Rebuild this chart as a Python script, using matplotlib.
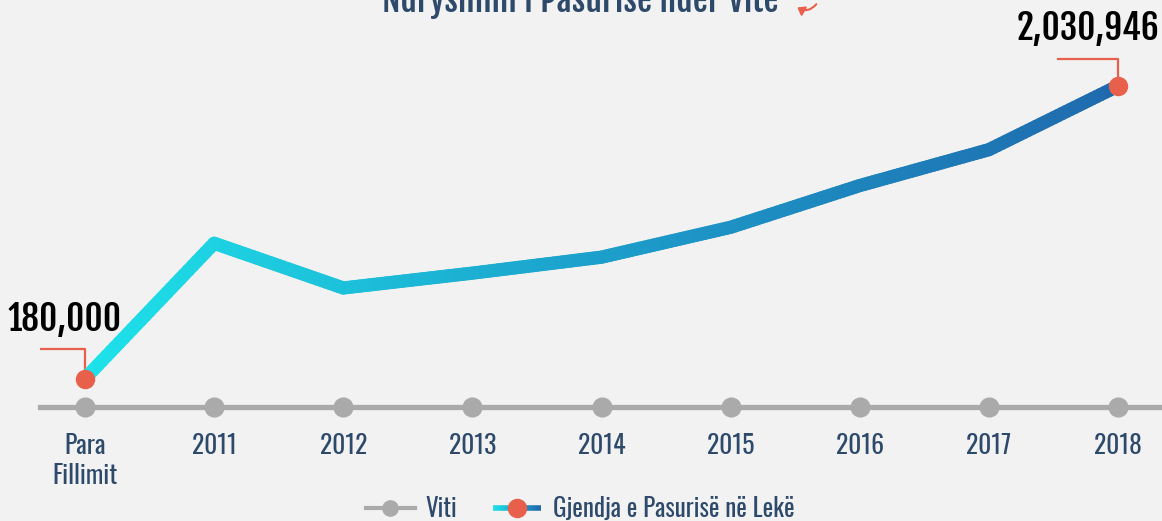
import matplotlib
matplotlib.use("Agg")
import matplotlib.pyplot as plt
import numpy as np
from matplotlib.collections import LineCollection
from matplotlib.lines import Line2D
from matplotlib.legend_handler import HandlerBase
from matplotlib.colors import LinearSegmentedColormap
from matplotlib.patches import FancyArrowPatch
from matplotlib import font_manager

categories = ["Para\nFillimit", "2011", "2012", "2013", "2014", "2015", "2016", "2017", "2018"]
wealth = [180000, 1036000, 753000, 847000, 948000, 1137000, 1401000, 1628000, 2030946]
years_series = [0, 0, 0, 0, 0, 0, 0, 0, 0]
title = "Ndryshimi i Pasurisë ndër Vite"
legend_labels = ["Viti", "Gjendja e Pasurisë në Lekë"]

fonts = font_manager.fontManager.ttflist
names = {f.name for f in fonts}
def pick(cands):
    return next((c for c in cands if c in names), "DejaVu Sans")
REG = pick(["Oswald", "Barlow Condensed", "Fjalla One"])
def wnum(w):
    if isinstance(w, int):
        return w
    return {"bold": 700, "normal": 400, "regular": 400, "semibold": 600}.get(str(w).lower(), 400)
if any(f.name == "Oswald" and wnum(f.weight) >= 600 for f in fonts):
    BOLD, BW = "Oswald", "bold"
elif "Fjalla One" in names:
    BOLD, BW = "Fjalla One", "normal"
else:
    BOLD, BW = pick(["Barlow Condensed"]), "bold"
plt.rcParams['font.family'] = [REG, 'DejaVu Sans']

BG = "#f2f2f2"
NAVY = "#2e4a6b"
GRAY = "#aaaaaa"
ORANGE = "#e8604c"
cmap = LinearSegmentedColormap.from_list("g", ["#1de3ea", "#1c9fcb", "#1f6aae"])

W, H = 1162, 521
fig = plt.figure(figsize=(W/100, H/100), dpi=100, facecolor=BG)
base_px = 407
ax = fig.add_axes([40/W, (H-base_px)/H, 1-40/W, base_px/H])
ax.set_facecolor(BG)
x = np.arange(len(categories))
spacing = 129.1
ax.set_xlim((40-85)/spacing, 8 + (1162-1118)/spacing)
k = wealth[-1]/(base_px-86)
ax.set_ylim(0, base_px*k)

for s in ["top", "left", "right"]:
    ax.spines[s].set_visible(False)
ax.spines["bottom"].set_color(GRAY)
ax.spines["bottom"].set_linewidth(3.8)
ax.set_yticks([])
ax.set_xticks(x)
ax.set_xticklabels(categories, color=NAVY, fontsize=18.5, linespacing=1.15)
ax.tick_params(axis="x", length=0, pad=19)

# Viti markers
ax.plot(x, years_series, "o", color=GRAY, ms=13.5, clip_on=False, zorder=3)

# gradient line
xs = np.asarray(x, float)
ys = np.asarray(wealth, float)
segs, cols = [], []
n = 30
for i in range(len(xs)-1):
    t = np.linspace(0, 1, n+1)
    px = xs[i] + (xs[i+1]-xs[i])*t
    py = ys[i] + (ys[i+1]-ys[i])*t
    for j in range(n):
        segs.append([(px[j], py[j]), (px[j+1], py[j+1])])
        cols.append(cmap(((px[j]+px[j+1])/2)/xs[-1]))
lc = LineCollection(segs, colors=cols, linewidths=9.5, capstyle="round", joinstyle="round", zorder=4)
ax.add_collection(lc)

# end markers
ax.plot([xs[0], xs[-1]], [ys[0], ys[-1]], "o", color=ORANGE, ms=13, zorder=5, clip_on=False)

# leader lines and labels
def leader(xi, yi, up_px, left_px, label, tx, ty):
    y_top = yi + up_px*k
    x_left = xi - left_px/spacing
    ax.plot([xi, xi, x_left], [yi, y_top, y_top], color=ORANGE, lw=1.6, zorder=2, solid_capstyle="butt")
    ax.annotate(label, (xi, yi), xytext=(tx, ty), textcoords="offset pixels",
                ha="center", va="center", fontsize=25.5, family=[BOLD, "DejaVu Sans"],
                fontweight=BW, color="black")

leader(xs[0], ys[0], 30, 63, f"{wealth[0]:,}", -20, 59)
leader(xs[-1], ys[-1], 27, 61, f"{wealth[-1]:,}", -30, 57)

# title (cut at top)
fig.text(580/W, 1-12/H, title, ha="center", va="baseline", fontsize=24.5,
         family=[BOLD, "DejaVu Sans"], fontweight=BW, color=NAVY)
fig.patches.append(FancyArrowPatch((818/W, 1-2/H), (795/W, 1-6/H),
    transform=fig.transFigure, connectionstyle="arc3,rad=-0.5",
    arrowstyle="-|>,head_length=4,head_width=3", color=ORANGE, lw=1.5))

class GradHandler(HandlerBase):
    def create_artists(self, legend, orig_handle, xd, yd, width, height, fontsize, trans):
        t = np.linspace(0, 1, 21)
        px = -xd + width*t
        py = np.full_like(px, -yd + height/2)
        segs = [[(px[j], py[j]), (px[j+1], py[j+1])] for j in range(20)]
        cols = [cmap((j+0.5)/20) for j in range(20)]
        c = LineCollection(segs, colors=cols, linewidths=4, transform=trans)
        m = Line2D([-xd + width/2], [-yd + height/2], marker="o", ms=13, color=ORANGE,
                   transform=trans)
        return [c, m]

h1 = Line2D([], [], color=GRAY, lw=3, marker="o", ms=11)
h2 = Line2D([], [], color="#1c9fcb")
leg = fig.legend([h1, h2], legend_labels, loc="center", bbox_to_anchor=(580/W, 1-509/H),
                 ncol=2, frameon=False, fontsize=18, handlelength=1.95, columnspacing=1.4,
                 handletextpad=0.45, labelcolor=NAVY, handler_map={h2: GradHandler()})

fig.savefig("out.png", dpi=100, facecolor=BG)
